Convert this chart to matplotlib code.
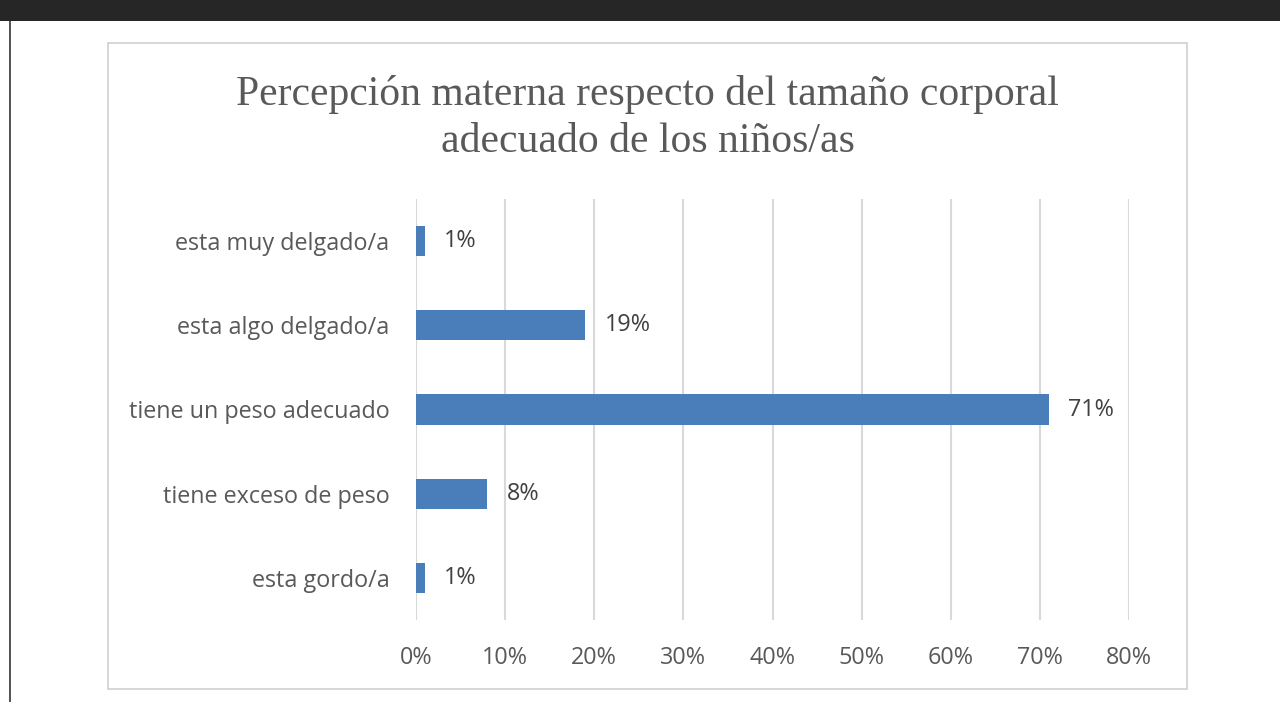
import matplotlib
matplotlib.use("Agg")
import matplotlib.pyplot as plt
from matplotlib.patches import Rectangle
from matplotlib.lines import Line2D

categories = ["esta muy delgado/a", "esta algo delgado/a", "tiene un peso adecuado",
              "tiene exceso de peso", "esta gordo/a"]
values = [1, 19, 71, 8, 1]
value_labels = ["1%", "19%", "71%", "8%", "1%"]
xticks = [0, 10, 20, 30, 40, 50, 60, 70, 80]
xtick_labels = ["0%", "10%", "20%", "30%", "40%", "50%", "60%", "70%", "80%"]
title = "Percepción materna respecto del tamaño corporal\nadecuado de los niños/as"

W, H = 1280, 702
fig = plt.figure(figsize=(W / 100, H / 100), dpi=100)
fig.patch.set_facecolor("white")

# dark band at top
fig.add_artist(Rectangle((0, 1 - 21 / H), 1, 21 / H, transform=fig.transFigure,
                         facecolor="#262626", edgecolor="none", zorder=-2))
# left vertical line
fig.add_artist(Line2D([9.5 / W, 9.5 / W], [0, 1 - 21 / H], transform=fig.transFigure,
                      color="#333333", lw=1.2, zorder=-2))
# chart frame
fig.add_artist(Rectangle((108 / W, 1 - 689 / H), (1187 - 108) / W, (689 - 43) / H,
                         transform=fig.transFigure, facecolor="white",
                         edgecolor="#d0d0d0", lw=1.2, zorder=-2))

ax = fig.add_axes([416 / W, 1 - 620 / H, (1129 - 416) / W, (620 - 199) / H])
ax.set_zorder(5)
ax.set_facecolor("none")
ypos = list(range(len(categories)))
ax.barh(ypos, values, height=0.36, color="#4a7ebb", zorder=3)
ax.set_ylim(len(categories) - 0.5, -0.5)
ax.set_xlim(0, 80)
ax.set_xticks(xticks)
ax.set_xticklabels(xtick_labels)
ax.set_yticks(ypos)
ax.set_yticklabels(categories)
for s in ax.spines.values():
    s.set_visible(False)
ax.grid(axis="x", color="#d9d9d9", lw=1.5, zorder=0)
ax.tick_params(axis="both", length=0, labelsize=16.8, colors="#595959")
ax.tick_params(axis="y", pad=19)
ax.tick_params(axis="x", pad=19)
for lab in ax.get_xticklabels() + ax.get_yticklabels():
    lab.set_fontfamily("Open Sans")

for y, v, t in zip(ypos, values, value_labels):
    ax.annotate(t, (v, y), xytext=(14, 0), textcoords="offset points",
                va="center", ha="left", fontsize=16.8, color="#404040",
                family="Open Sans")

fig.text((108 + 1187) / 2 / W, 1 - 118 / H, title, ha="center", va="center",
         fontsize=30, color="#595959", family="Liberation Serif", linespacing=1.3,
         zorder=6)

fig.savefig("out.png", dpi=100)
